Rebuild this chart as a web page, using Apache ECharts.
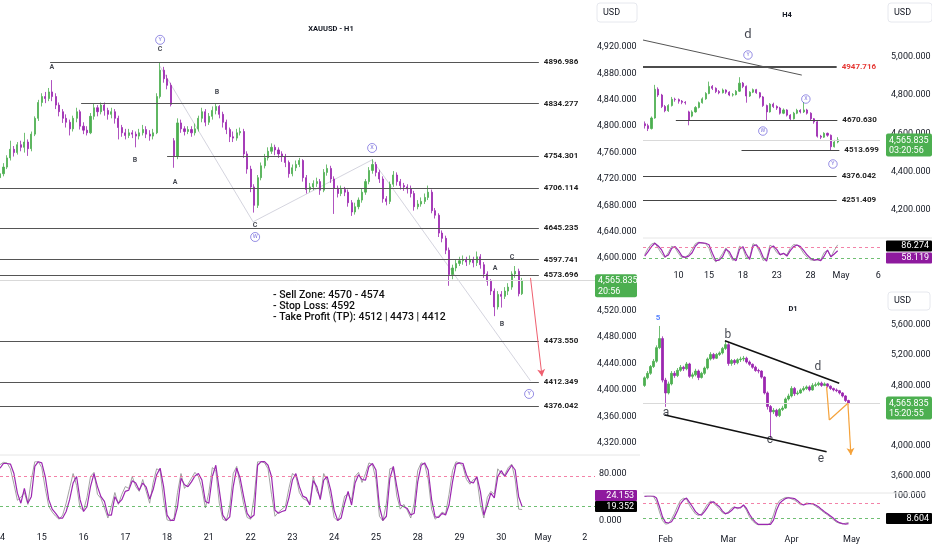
<!DOCTYPE html>
<html><head><meta charset="utf-8">
<script src="https://cdn.jsdelivr.net/npm/echarts@6/dist/echarts.min.js"></script>
<style>html,body{margin:0;padding:0;background:#fff}#c{width:932px;height:550px}</style>
</head><body><div id="c"></div><script>
// ---------------- DATA ----------------
const lastPrice = 4565.835;
const countdowns = ['20:56', '03:20:56', '15:20:55'];

// H1
const h1Days = ['14','15','16','17','18','21','22','23','24','25','28','29','30','May','2'];
const h1BarsPerDay = 12;
const h1View = [0, 170.93];   // visible bar range of the H1 pane
const h1Candles = [ // [open, close, low, high]
[4722,4728,4716,4734],[4728,4738,4724,4744],[4738,4752,4735,4756],[4752,4765,4748,4778],[4765,4760,4754,4770],
[4760,4772,4757,4776],[4772,4768,4762,4778],[4768,4776,4760,4790],[4776,4766,4755,4780],[4766,4788,4762,4792],
[4788,4812,4785,4815],[4812,4836,4808,4840],[4836,4845,4830,4850],[4845,4842,4835,4852],[4842,4852,4838,4858],
[4852,4845,4838,4870],[4845,4832,4826,4850],[4832,4822,4815,4836],[4822,4812,4805,4826],[4812,4806,4798,4818],
[4806,4796,4786,4810],[4796,4812,4792,4816],[4812,4822,4806,4828],[4822,4800,4795,4825],[4800,4794,4788,4806],
[4794,4790,4786,4800],[4790,4815,4788,4820],[4815,4828,4810,4834],[4828,4822,4815,4832],[4822,4832,4818,4836],
[4832,4824,4816,4836],[4824,4818,4810,4828],[4818,4822,4812,4828],[4822,4812,4804,4826],[4812,4798,4780,4816],
[4798,4790,4784,4802],[4790,4786,4780,4796],[4786,4790,4782,4796],[4790,4788,4782,4794],[4788,4785,4768,4792],
[4785,4790,4780,4796],[4790,4795,4786,4802],[4795,4788,4782,4800],[4788,4785,4778,4794],[4785,4790,4780,4796],
[4790,4845,4788,4850],[4845,4885,4842,4897],[4885,4872,4866,4890],[4872,4862,4856,4878],[4862,4833,4830,4866],
[4778,4755,4737,4782],[4755,4805,4750,4812],[4805,4796,4790,4810],[4796,4792,4786,4800],[4792,4795,4788,4800],
[4795,4790,4784,4800],[4790,4796,4786,4804],[4796,4812,4792,4816],[4812,4822,4806,4828],[4822,4806,4800,4826],
[4806,4815,4802,4820],[4815,4824,4810,4830],[4824,4830,4818,4834],[4830,4818,4812,4832],[4818,4806,4798,4822],
[4806,4795,4788,4810],[4795,4784,4776,4798],[4784,4782,4776,4792],[4782,4790,4778,4796],[4790,4792,4786,4798],
[4792,4758,4752,4796],[4758,4735,4728,4762],[4735,4708,4700,4740],[4708,4680,4669,4712],[4680,4722,4676,4726],
[4722,4740,4718,4745],[4740,4752,4736,4758],[4752,4762,4748,4768],[4762,4768,4758,4774],[4768,4764,4756,4772],
[4764,4758,4752,4768],[4758,4754,4746,4762],[4754,4745,4738,4758],[4745,4728,4722,4748],[4728,4737,4724,4742],
[4737,4742,4732,4748],[4742,4748,4738,4752],[4748,4722,4716,4750],[4722,4704,4698,4726],[4704,4708,4700,4714],
[4708,4713,4703,4718],[4713,4716,4708,4722],[4716,4703,4696,4720],[4703,4730,4700,4735],[4730,4736,4725,4742],
[4736,4720,4714,4740],[4720,4706,4667,4724],[4706,4698,4692,4710],[4698,4704,4694,4710],[4704,4700,4694,4708],
[4700,4684,4678,4704],[4684,4670,4664,4688],[4670,4678,4666,4684],[4678,4688,4674,4692],[4688,4700,4684,4706],
[4700,4716,4696,4720],[4716,4733,4712,4738],[4733,4742,4728,4750],[4742,4730,4724,4746],[4730,4720,4714,4734],
[4720,4690,4684,4724],[4690,4686,4680,4694],[4686,4712,4682,4716],[4712,4726,4708,4732],[4726,4716,4710,4730],
[4716,4710,4704,4720],[4710,4708,4702,4714],[4708,4705,4698,4712],[4705,4698,4692,4710],[4698,4678,4672,4702],
[4678,4682,4674,4688],[4682,4686,4678,4692],[4686,4692,4682,4698],[4692,4700,4688,4710],[4700,4672,4668,4704],
[4672,4665,4660,4676],[4665,4638,4632,4668],[4638,4630,4624,4642],[4630,4612,4606,4634],[4612,4575,4558,4616],
[4575,4585,4568,4590],[4585,4592,4580,4598],[4592,4596,4588,4602],[4596,4598,4590,4604],[4598,4594,4588,4602],
[4594,4598,4590,4604],[4598,4593,4586,4602],[4593,4602,4588,4610],[4602,4590,4584,4606],[4590,4576,4570,4594],
[4576,4565,4558,4580],[4565,4550,4544,4568],[4550,4526,4512,4554],[4526,4545,4522,4550],[4545,4542,4525,4550],
[4542,4550,4538,4556],[4550,4556,4544,4562],[4556,4576,4552,4580],[4576,4580,4570,4588],[4580,4546,4542,4584],
[4546,4566,4544,4570]];
const h1StochD = [89,97,97,96,80,47,30,55,30,41, 92,100,98,75,36,20,13,5,5,16, 36,64,75,36,16,24,58,80,58,41,
 33,10,10,41,30,36,50,52,68,64, 52,64,57,37,53,78,89,58,10,1, 1,24,72,61,58,66,76,80,69,33, 30,75,94,52,10,1,7,58,89,72,
 41,13,5,10,94,100,100,94,75,18, 13,16,18,39,69,80,58,42,39,27, 68,58,36,69,75,52,18,1,5,30, 50,27,64,78,70,69,92,97,86,24,
 1,8,72,92,58,27,24,21,10,13, 66,94,98,86,36,7,6,13,10,27, 66,96,98,97,78,66,64,75,50,10, 27,47,39,75,85,75,85,94,86,41, 24.153];
const h1StochK = [95,99,98,88,62,35,40,48,28,70, 100,100,90,55,25,15,8,3,10,30, 55,80,60,22,18,40,75,82,45,38,
 22,5,25,48,28,45,58,55,75,58, 50,70,50,30,65,88,85,35,2,0, 5,48,80,55,62,72,82,75,55,22, 48,90,85,30,3,0,25,80,92,60,
 28,6,3,40,100,100,98,88,45,8, 15,20,25,55,80,76,48,38,35,30, 75,50,40,80,68,38,6,0,15,42, 45,35,75,82,65,80,98,95,70,8,
 0,30,88,90,42,20,28,18,5,30, 85,98,96,70,20,3,8,15,12,45, 85,100,98,92,70,62,70,72,28,5, 40,50,45,88,80,78,90,96,70,20, 19.352];
const h1Levels = [4896.986, 4834.277, 4754.301, 4706.114, 4645.235, 4597.741, 4573.696, 4473.550, 4412.349, 4376.042];
const h1LevelStart = [14.4, 23.3, 48.0, 0, 0, 0, 0, 0, 0, 0];
const h1LevelEnd = 154.8;
const h1Letters = [[14.9,4890,'A'],[46.0,4917,'C'],[62.3,4852,'B'],[38.8,4749,'B'],[50.3,4715,'A'],[73.3,4650,'C'],
 [142.2,4584,'A'],[144.2,4500,'B'],[147.1,4602,'C']];
const h1Circles = [[46.0,4931,'Y'],[73.3,4632,'W'],[106.9,4767,'X'],[152.0,4394,'Y']];
const h1WavePath = [[45.7,4893],[72.7,4655],[106.9,4749],[152.4,4414]];
const h1Arrow = [[152.4,4570],[155.7,4421]];
const h1Plan = ['- Sell Zone: 4570 - 4574', '- Stop Loss: 4592', '- Take Profit (TP): 4512 | 4473 | 4412'];

// H4
const h4Labels = ['10','15','18','23','28','May','6'];
const h4LabelSlots = [10,19,29,39,49,58,69];
const h4Slots = 70;
const h4Candles = [
[4650,4640,4625,4662],[4640,4625,4612,4650],[4625,4680,4620,4688],[4680,4830,4676,4853],[4830,4800,4790,4840],
[4800,4740,4732,4806],[4740,4718,4710,4748],[4718,4745,4712,4752],[4745,4778,4740,4790],[4778,4776,4765,4786],
[4776,4768,4755,4782],[4768,4762,4752,4774],[4762,4760,4750,4768],[4712,4668,4642,4718],[4690,4712,4684,4720],
[4712,4735,4708,4742],[4735,4760,4730,4766],[4760,4780,4755,4788],[4780,4808,4775,4815],[4808,4845,4804,4870],
[4845,4835,4826,4852],[4835,4818,4810,4840],[4818,4812,4804,4826],[4812,4826,4808,4834],[4826,4815,4806,4830],
[4815,4800,4794,4820],[4800,4802,4792,4810],[4802,4820,4798,4826],[4820,4862,4816,4893],[4862,4845,4836,4868],
[4845,4795,4760,4850],[4795,4815,4790,4820],[4815,4828,4810,4834],[4828,4812,4806,4832],[4812,4790,4782,4816],
[4790,4745,4738,4795],[4745,4712,4668,4750],[4712,4752,4708,4758],[4752,4740,4732,4760],[4740,4732,4722,4746],
[4732,4705,4698,4738],[4705,4722,4700,4730],[4722,4695,4688,4726],[4695,4676,4668,4700],[4676,4705,4672,4712],
[4705,4720,4700,4728],[4720,4712,4704,4726],[4712,4722,4706,4763],[4722,4705,4698,4728],[4705,4676,4668,4710],
[4676,4660,4650,4680],[4660,4585,4578,4664],[4585,4580,4570,4592],[4580,4600,4576,4606],[4600,4590,4582,4604],
[4590,4530,4513,4594],[4530,4555,4526,4566],[4555,4566,4548,4580]];
const h4StochD = [33,54,78,94,81,62,30,38,70,78, 59,33,27,33,49,81,97,96,94,87, 46,11,14,30,65,54,22,11,65,78,
 43,17,81,86,65,27,9,70,81,65, 40,46,33,59,78,86,78,59,38,22, 14,17,11,33,62,30,43,58.119];
const h4StochK = [40,70,90,96,70,45,25,50,80,72, 45,25,28,40,65,92,100,95,92,70, 25,5,20,45,72,40,12,20,80,70,
 25,25,92,82,50,12,20,85,75,50, 38,45,40,70,88,85,70,45,28,15, 12,15,15,50,60,28,60,86.274];
const h4Levels = [4947.716, 4670.630, 4513.699, 4376.042, 4251.409];
const h4LevelStart = [-0.5, 9.2, 28.6, -0.5, -0.5];
const h4LevelEnd = [56.7, 56.9, 57.5, 56.7, 56.7];
const h4Trend = [[-0.5,5087],[46.4,4904]];
const h4Letters = [[30.5,5113,'d']];
const h4Circles = [[30.5,5009,'Y'],[47.6,4779,'X'],[34.9,4612,'W'],[55.6,4440,'Y']];

// D1
const d1Labels = ['Feb','Mar','Apr','May'];
const d1LabelSlots = [7,28,49,69];
const d1Slots = 79;
const d1Candles = [
[4800,4900,4780,4920],[4900,4960,4880,4990],[4960,5050,4940,5070],[5050,5120,5030,5150],[5120,5300,5100,5330],
[5300,5420,5280,5587],[5420,4870,4840,5450],[4870,4700,4516,4900],[4700,4820,4680,4850],[4820,4960,4800,4990],
[4960,4930,4900,4990],[4930,5000,4910,5030],[5000,5040,4980,5070],[5040,5020,4990,5060],[5020,5084,5000,5110],
[5084,4920,4900,5100],[4920,4940,4890,4970],[4940,4990,4920,5020],[4990,4905,4870,5010],[4905,4960,4890,4980],
[4960,5030,4940,5050],[5030,5150,5010,5170],[5150,5210,5130,5240],[5210,5160,5140,5230],[5160,5210,5150,5230],
[5210,5230,5190,5250],[5230,5290,5210,5310],[5290,5340,5270,5390],[5340,5090,5060,5360],[5090,5130,5060,5150],
[5130,5100,5070,5150],[5100,5140,5080,5160],[5140,5150,5110,5180],[5150,5160,5120,5190],[5160,5110,5090,5180],
[5110,5080,5060,5130],[5080,5040,5020,5090],[5040,4997,4980,5060],[4997,4990,4960,5020],[4990,4910,4890,5000],
[4910,4700,4680,4920],[4700,4520,4480,4720],[4520,4450,4105,4540],[4450,4470,4420,4500],[4470,4400,4380,4490],
[4400,4480,4380,4500],[4480,4500,4460,4530],[4500,4620,4490,4640],[4620,4660,4600,4690],[4660,4760,4640,4790],
[4760,4690,4660,4780],[4690,4700,4670,4730],[4700,4740,4690,4760],[4740,4760,4720,4790],[4760,4780,4740,4800],
[4780,4740,4720,4800],[4740,4800,4730,4830],[4800,4810,4780,4840],[4810,4830,4790,4850],[4830,4800,4780,4850],
[4800,4820,4790,4840],[4820,4790,4770,4830],[4790,4760,4740,4800],[4760,4740,4720,4770],[4740,4730,4710,4760],
[4730,4700,4680,4740],[4700,4660,4640,4710],[4660,4600,4580,4670],[4600,4566,4550,4610]];
const d1StochD = [99,100,100,100,93,63,28,9,7,11, 28,49,74,86,93,78,63,46,37,34, 46,61,78,80,71,63,48,39,42,50,
 61,59,59,69,57,37,21,10,2,2, 2,2,2,17,51,74,84,91,94,93, 91,84,74,69,73,74,74,69,63,54, 46,39,31,23,14,8,5,3,5];
const d1StochK = [100,100,100,98,80,45,15,3,5,20, 40,65,85,92,90,68,52,38,33,38, 55,72,82,76,65,55,42,38,46,58,
 63,56,62,68,50,28,14,5,0,0, 0,0,8,35,68,84,90,95,95,90, 86,78,70,70,76,74,72,65,58,50, 42,35,27,18,10,6,4,6,8.604];
const d1Upper = [[26.8,5392],[64.9,4828]];
const d1Lower = [[6.8,4408],[60.7,3922]];
const d1Projection = [[60.7,4783],[61.6,4342],[67.8,4563],[68.8,3878]];
const d1Letters = [[7.2,4434,'a'],[27.8,5468,'b'],[41.8,4077,'c'],[57.8,5044,'d'],[58.8,3825,'e']];
const d1Wave5 = [[4.5,5693,'5']];

// ---------------- STYLE / BUILD ----------------
const UP = '#4caf50', DOWN = '#9c27b0', INK = '#131722';
const FONT = 'Roboto, "Liberation Sans", sans-serif';
const fmt = (v, d) => v.toLocaleString('en-US', {minimumFractionDigits: d, maximumFractionDigits: d});

const gridBox = [
  [0, 20.72, 595, 448.4],     // H1 price  (4280..4960)
  [0, 461.7, 595, 59.3],      // H1 stoch
  [643, 18.38, 237, 229.92],  // H4 price  (4000..5200)
  [643, 242, 237, 21],        // H4 stoch
  [643, 264.6, 237, 241.6],   // D1 price  (3200..6400)
  [643, 496, 237, 29]         // D1 stoch
];
const grids = gridBox.map(b => ({left: b[0], top: b[1], width: b[2], height: b[3],
  containLabel: false, outerBoundsMode: 'none'}));

function hiddenX(gi, lo, hi) {
  return {type: 'value', gridIndex: gi, min: lo, max: hi, show: false};
}
function labelX(gi, lo, hi, vals, names, margin) {
  return {type: 'value', gridIndex: gi, min: lo, max: hi,
    axisLine: {show: false}, axisTick: {show: false}, splitLine: {show: false},
    axisLabel: {customValues: vals, margin: margin, fontSize: 9, color: INK, fontFamily: FONT,
      showMinLabel: true,
      formatter: v => names[vals.indexOf(Math.round(v))] ?? ''}};
}
function priceY(gi, min, max, interval, lo, hi, margin) {
  return {type: 'value', gridIndex: gi, position: 'right', min: min, max: max, interval: interval, scale: true,
    axisLine: {show: false}, axisTick: {show: false}, splitLine: {show: false},
    axisLabel: {margin: margin, fontSize: 9, color: INK, fontFamily: FONT,
      formatter: v => (v >= lo && v <= hi) ? fmt(v, 3) : ''}};
}
function stochY(gi, shown, margin) {
  return {type: 'value', gridIndex: gi, position: 'right', min: 0, max: 100, interval: 20,
    axisLine: {show: false}, axisTick: {show: false}, splitLine: {show: false},
    axisLabel: {margin: margin, fontSize: 9, color: INK, fontFamily: FONT,
      formatter: v => shown.indexOf(v) >= 0 ? fmt(v, 3) : ''}};
}

const h1DayIdx = h1Days.map((d, k) => k * h1BarsPerDay);

function candleSeries(xi, data, bw, markLineData) {
  return {type: 'candlestick', xAxisIndex: xi, yAxisIndex: xi, barWidth: bw, clip: true,
    encode: {x: 0, y: [1, 2, 3, 4]},
    data: data.map((d, i) => [i, d[0], d[1], d[2], d[3]]),
    itemStyle: {color: UP, color0: DOWN, borderColor: UP, borderColor0: DOWN, borderWidth: 0.8},
    markLine: {silent: true, symbol: 'none', animation: false, data: markLineData}};
}
function stochSeries(xi, vals, color, width, z, withBands) {
  const s = {type: 'line', xAxisIndex: xi, yAxisIndex: xi, showSymbol: false, symbol: 'none', z: z,
    data: vals.map((v, i) => [i, v]), lineStyle: {color: color, width: width}, silent: true};
  if (withBands) {
    s.markLine = {silent: true, symbol: 'none', animation: false, label: {show: false},
      data: [{yAxis: 75, lineStyle: {color: '#f06292', type: [3, 3], width: 0.8}},
             {yAxis: 25, lineStyle: {color: '#4caf50', type: [3, 3], width: 0.8}}]};
  }
  return s;
}
function letterSeries(xi, pts, size, color, weight) {
  return {type: 'scatter', xAxisIndex: xi, yAxisIndex: xi, symbolSize: 0, silent: true, z: 5,
    data: pts, label: {show: true, position: 'inside', formatter: p => p.data[2],
      fontSize: size, color: color, fontWeight: weight, fontFamily: FONT}};
}
function circleSeries(xi, pts, size) {
  return {type: 'scatter', xAxisIndex: xi, yAxisIndex: xi, symbol: 'circle', symbolSize: size, silent: true, z: 5,
    data: pts, itemStyle: {color: 'rgba(255,255,255,0)', borderColor: '#5b4fd4', borderWidth: 0.8},
    label: {show: true, position: 'inside', formatter: p => p.data[2], fontSize: size * 0.62,
      color: '#5b4fd4', fontFamily: FONT}};
}
function levelLine(start, end, value, labelColor, lineColor, lw) {
  return [{coord: [start, value], name: fmt(value, 3).replace(/,/g, ''),
           lineStyle: {color: lineColor, width: lw, type: 'solid'},
           label: {show: true, position: 'end', distance: 5, formatter: '{b}', fontSize: 8, fontWeight: 'bold',
                   color: labelColor, fontFamily: FONT}},
          {coord: [end, value]}];
}
function segment(a, b, color, width, arrow) {
  return [{coord: a, symbol: 'none', lineStyle: {color: color, width: width, type: 'solid'}, label: {show: false}},
          {coord: b, symbol: arrow ? 'arrow' : 'none', symbolSize: arrow ? [6, 7] : 0}];
}
const currentLine = {yAxis: lastPrice, lineStyle: {color: '#d9d9d9', width: 1, type: 'solid'}, label: {show: false}};

const h1Marks = [currentLine];
h1Levels.forEach((v, k) => h1Marks.push(levelLine(h1LevelStart[k], h1LevelEnd, v, '#222', '#555', 1.2)));
h1Marks.push(segment(h1Arrow[0], h1Arrow[1], '#ef5f6f', 1, true));

const h4Marks = [currentLine];
h4Levels.forEach((v, k) => h4Marks.push(levelLine(h4LevelStart[k], h4LevelEnd[k], v,
  k === 0 ? '#e53935' : '#222', k === 0 ? '#111' : '#444', k === 0 ? 1.6 : 1)));
h4Marks.push(segment(h4Trend[0], h4Trend[1], '#555', 1, false));

const d1Marks = [currentLine];
d1Marks.push(segment(d1Upper[0], d1Upper[1], '#111', 1.6, false));
d1Marks.push(segment(d1Lower[0], d1Lower[1], '#111', 1.6, false));
for (let k = 0; k < d1Projection.length - 1; k++) {
  d1Marks.push(segment(d1Projection[k], d1Projection[k + 1], '#f5a23a', 1.2, k === d1Projection.length - 2));
}

const option = {
  animation: false,
  backgroundColor: '#ffffff',
  textStyle: {fontFamily: FONT},
  grid: grids,
  xAxis: [
    hiddenX(0, h1View[0], h1View[1]), labelX(1, h1View[0], h1View[1], h1DayIdx, h1Days, 12),
    hiddenX(2, -0.5, h4Slots - 0.5), labelX(3, -0.5, h4Slots - 0.5, h4LabelSlots, h4Labels, 8),
    hiddenX(4, -0.5, d1Slots - 0.5), labelX(5, -0.5, d1Slots - 0.5, d1LabelSlots, d1Labels, 10)
  ],
  yAxis: [
    priceY(0, 4280, 4960, 40, 4320, 4920, 2),
    stochY(1, [0, 80], 4),
    priceY(2, 4000, 5200, 200, 4200, 5000, 11),
    stochY(3, [], 11),
    priceY(4, 3200, 6400, 400, 3600, 5600, 11),
    stochY(5, [100], 13)
  ],
  series: [
    candleSeries(0, h1Candles, 1.6, h1Marks),
    {type: 'line', xAxisIndex: 0, yAxisIndex: 0, data: h1WavePath, symbol: 'none', silent: true,
      lineStyle: {color: '#c9c9d6', width: 0.8}, z: 1},
    letterSeries(0, h1Letters, 7, INK, 'bold'),
    circleSeries(0, h1Circles, 9),
    stochSeries(1, h1StochK, '#8c8c8c', 0.8, 2, false),
    stochSeries(1, h1StochD, '#9c27b0', 1.2, 3, true),

    candleSeries(2, h4Candles, 1.6, h4Marks),
    letterSeries(2, h4Letters, 13, INK, 'normal'),
    circleSeries(2, h4Circles, 8.5),
    stochSeries(3, h4StochK, '#8c8c8c', 0.8, 2, false),
    stochSeries(3, h4StochD, '#9c27b0', 1.2, 3, true),

    candleSeries(4, d1Candles, 1.8, d1Marks),
    letterSeries(4, d1Letters, 12, INK, 'normal'),
    letterSeries(4, d1Wave5, 8, '#2962ff', 'bold'),
    stochSeries(5, d1StochK, '#8c8c8c', 0.8, 2, false),
    stochSeries(5, d1StochD, '#9c27b0', 1.2, 3, true)
  ]
};

const chart = echarts.init(document.getElementById('c'), null, {renderer: 'canvas', width: 932, height: 550});
chart.setOption(option);

// ---------------- chrome + value tags ----------------
function txt(id, x, y, text, font, fill, align) {
  return {type: 'text', id: id, z: 100, silent: true,
    style: {x: x, y: y, text: text, font: font, fill: fill, align: align || 'left', verticalAlign: 'middle',
            textAlign: align || 'left', textVerticalAlign: 'middle'}};
}
function rect(id, x, y, w, h, fill, stroke, r) {
  return {type: 'rect', id: id, z: 99, silent: true, shape: {x: x, y: y, width: w, height: h, r: r || 0},
    style: {fill: fill, stroke: stroke || null, lineWidth: stroke ? 1 : 0}};
}
function hline(id, x1, x2, y, color) {
  return {type: 'line', id: id, z: 1, silent: true, shape: {x1: x1, y1: y, x2: x2, y2: y},
    style: {stroke: color, lineWidth: 1}};
}
const g = [];
g.push(txt('t1', 331, 29, 'XAUUSD - H1', 'bold 7.5px ' + FONT, INK, 'center'));
g.push(txt('t2', 787, 15, 'H4', 'bold 7.5px ' + FONT, INK, 'center'));
g.push(txt('t3', 793, 309, 'D1', 'bold 7.5px ' + FONT, INK, 'center'));
g.push(rect('u1', 597, 3, 40, 19, '#fff', '#e6e8ee', 3)); g.push(txt('u1t', 603, 12.5, 'USD', '9px ' + FONT, INK));
g.push(rect('u2', 888, 3, 44, 19, '#fff', '#e6e8ee', 3)); g.push(txt('u2t', 894, 12.5, 'USD', '9px ' + FONT, INK));
g.push(rect('u3', 888, 292, 42, 18, '#fff', '#e6e8ee', 3)); g.push(txt('u3t', 894, 301, 'USD', '9px ' + FONT, INK));
g.push(hline('s1', 0, 640, 455, '#e6e6e6'));
g.push(hline('s2', 643, 932, 238, '#e6e6e6'));
g.push(hline('s3', 643, 925, 493, '#e6e6e6'));
h1Plan.forEach((line, k) => g.push(txt('p' + k, 273, 295 + k * 11, line,
  '500 10.5px Roboto, "Liberation Sans", sans-serif', '#0d0d0d')));

const py = (ai, v) => chart.convertToPixel({yAxisIndex: ai}, v);
function priceTag(id, ai, x, w, count) {
  const y = py(ai, lastPrice);
  g.push(rect(id, x, y - 6.5, w, 23, '#4caf50', null, 2));
  g.push(txt(id + 'a', x + 3, y + 0.5, fmt(lastPrice, 3), '9px ' + FONT, '#fff'));
  g.push(txt(id + 'b', x + 3, y + 11, count, '9px ' + FONT, '#fff'));
}
priceTag('pt1', 0, 595, 42, countdowns[0]);
priceTag('pt2', 2, 886, 46, countdowns[1]);
priceTag('pt3', 4, 886, 46, countdowns[2]);
function valTag(id, x, yc, w, fill, v) {
  g.push(rect(id, x, yc - 5.5, w, 11, fill, null, 1));
  g.push(txt(id + 't', x + w - 3, yc, fmt(v, 3), '9px ' + FONT, '#fff', 'right'));
}
const h1D = h1StochD[h1StochD.length - 1], h1K = h1StochK[h1StochK.length - 1];
valTag('o1', 595, py(1, h1K) - 3, 42, '#000', h1K);
valTag('o2', 595, py(1, h1K) - 14, 42, '#8e1a9e', h1D);
const h4D = h4StochD[h4StochD.length - 1], h4K = h4StochK[h4StochK.length - 1];
valTag('o3', 886, py(3, h4K) + 1, 46, '#000', h4K);
valTag('o4', 886, py(3, h4K) + 13, 46, '#8e1a9e', h4D);
const d1K = d1StochK[d1StochK.length - 1];
valTag('o5', 886, py(5, d1K) - 4, 46, '#000', d1K);

chart.setOption({graphic: g});
</script></body></html>
